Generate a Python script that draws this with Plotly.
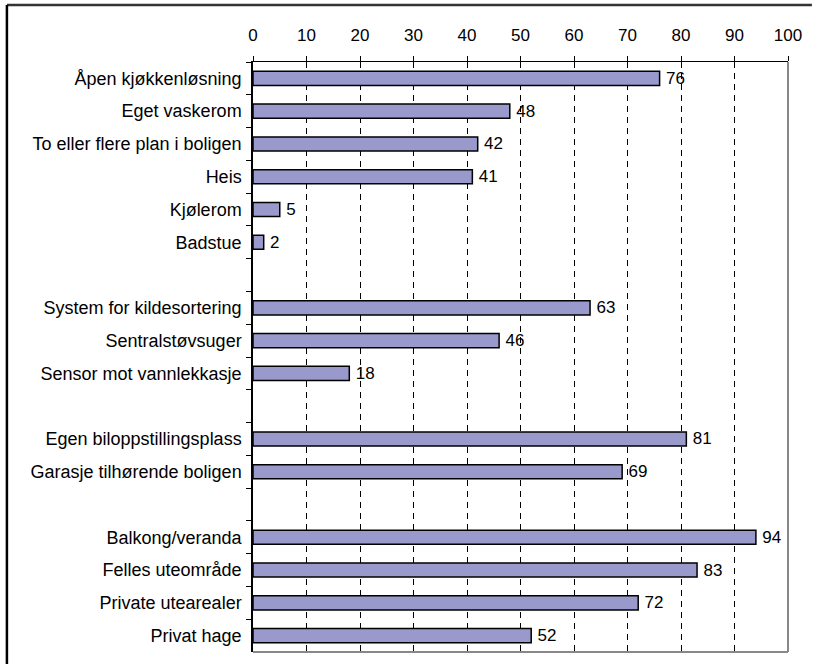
import plotly.graph_objects as go

categories = [
    "Åpen kjøkkenløsning", "Eget vaskerom", "To eller flere plan i boligen", "Heis",
    "Kjølerom", "Badstue", " ",
    "System for kildesortering", "Sentralstøvsuger", "Sensor mot vannlekkasje", "  ",
    "Egen biloppstillingsplass", "Garasje tilhørende boligen", "   ",
    "Balkong/veranda", "Felles uteområde", "Private utearealer", "Privat hage",
]
values = [76, 48, 42, 41, 5, 2, None, 63, 46, 18, None, 81, 69, None, 94, 83, 72, 52]
x_ticks = list(range(0, 101, 10))

W, H = 814, 664
L, R, T, B = 253, 24, 62, 12
pw, ph = W - L - R, H - T - B

labels = ["" if v is None else "\u2009" + str(v) for v in values]

fig = go.Figure(go.Bar(
    x=values, y=categories, orientation="h",
    marker=dict(color="#9999CC", line=dict(color="black", width=1.5)),
    text=labels, textposition="outside", cliponaxis=False, constraintext="none",
    textfont=dict(family="Liberation Sans, Arial", size=17, color="black"),
    hoverinfo="skip",
))

fig.update_layout(
    width=W, height=H,
    margin=dict(l=L, r=R, t=T, b=B),
    paper_bgcolor="white", plot_bgcolor="white",
    bargap=0.57, showlegend=False,
    font=dict(family="Liberation Sans, Arial", size=17, color="black"),
)
fig.update_xaxes(
    side="top", range=[0, 100], tickvals=x_ticks,
    ticks="outside", ticklen=5, tickcolor="black", ticklabelstandoff=8,
    showline=True, linecolor="black", linewidth=1,
    showgrid=True, gridcolor="black", gridwidth=1, griddash="6px,5px",
    zeroline=False, tickfont=dict(size=17),
)
fig.update_yaxes(
    type="category", categoryorder="array", categoryarray=categories,
    autorange="reversed", tickson="boundaries",
    ticks="outside", ticklen=5, tickcolor="black", ticklabelstandoff=6,
    showline=True, linecolor="black", linewidth=1.5,
    showgrid=False, tickfont=dict(size=18),
)

# gray right and bottom border of plot area
fig.add_shape(type="line", xref="x domain", yref="y domain", x0=1, x1=1, y0=0, y1=1,
              line=dict(color="#888888", width=2))
fig.add_shape(type="line", xref="x domain", yref="y domain", x0=0, x1=1, y0=0, y1=0,
              line=dict(color="#888888", width=2))

# outer frame (top and left)
fx0 = (6 - L) / pw
fy_top = 1 + (T - 5) / ph
fig.add_shape(type="line", xref="paper", yref="paper", x0=fx0, x1=1 + R / pw,
              y0=fy_top, y1=fy_top, line=dict(color="#333333", width=2.5))
fig.add_shape(type="line", xref="paper", yref="paper", x0=fx0, x1=fx0,
              y0=fy_top, y1=-B / ph, line=dict(color="black", width=2.5))

fig.write_html("out.html", config={"displayModeBar": False},
               post_script="document.body.style.margin='0';")
